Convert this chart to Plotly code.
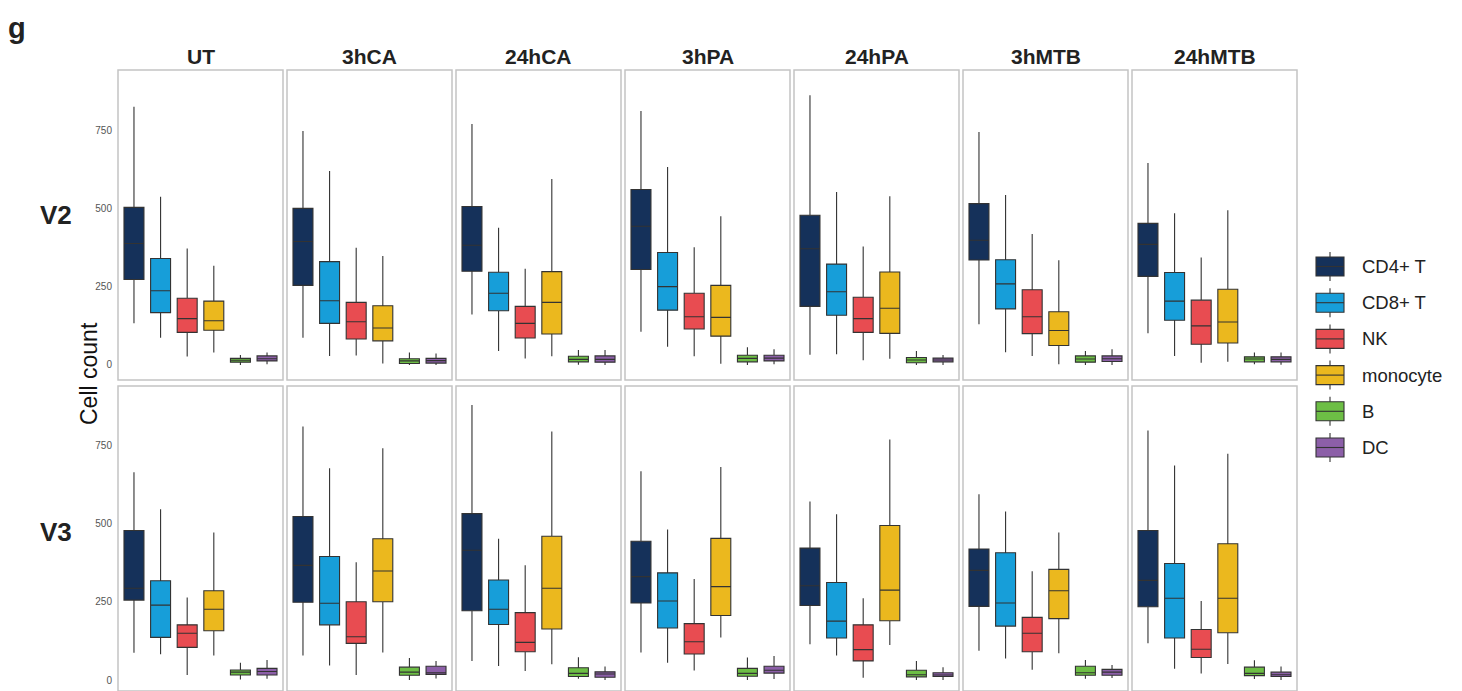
import plotly.graph_objects as go

# Cell types (x categories / fill colours) and facet labels
celltypes = ["CD4+ T", "CD8+ T", "NK", "monocyte", "B", "DC"]
colors = ["#15315A", "#179ED9", "#E84C51", "#EBB81E", "#6DBE45", "#8C5FA8"]
conditions = ["UT", "3hCA", "24hCA", "3hPA", "24hPA", "3hMTB", "24hMTB"]
visits = ["V2", "V3"]
y_ticks = [0, 250, 500, 750]

# Box statistics: rows = cell type, columns = condition
V2_HIGH = [
    [824, 747, 769, 811, 861, 744, 645],
    [537, 619, 438, 632, 552, 543, 484],
    [372, 374, 307, 376, 378, 418, 343],
    [317, 348, 594, 475, 539, 334, 494],
    [32, 40, 48, 57, 45, 45, 40],
    [40, 37, 48, 50, 32, 50, 40],
]
V2_Q3 = [
    [503, 500, 506, 560, 478, 515, 452],
    [340, 330, 296, 359, 322, 336, 295],
    [213, 200, 187, 229, 216, 240, 207],
    [204, 189, 298, 254, 297, 170, 242],
    [21, 20, 28, 31, 24, 29, 26],
    [29, 21, 29, 31, 22, 29, 26],
]
V2_MED = [
    [388, 394, 382, 443, 371, 398, 385],
    [237, 205, 229, 250, 234, 259, 204],
    [148, 138, 133, 154, 148, 154, 125],
    [141, 118, 200, 152, 181, 110, 137],
    [15, 13, 18, 21, 16, 19, 19],
    [20, 14, 18, 22, 16, 20, 18],
]
V2_Q1 = [
    [273, 254, 299, 305, 187, 335, 283],
    [167, 133, 173, 175, 159, 179, 143],
    [104, 83, 86, 115, 104, 100, 66],
    [111, 77, 99, 92, 101, 62, 70],
    [9, 5, 10, 10, 7, 9, 10],
    [13, 6, 9, 13, 10, 11, 10],
]
V2_LOW = [
    [133, 87, 161, 106, 33, 130, 101],
    [87, 29, 45, 58, 34, 41, 29],
    [27, 30, 21, 28, 15, 29, 7],
    [40, 5, 28, 4, 20, 2, 10],
    [0, 0, 1, 0, 0, 0, 2],
    [2, 0, 0, 2, 0, 0, 1],
]

V3_HIGH = [
    [663, 809, 878, 666, 570, 593, 796],
    [545, 676, 451, 480, 529, 538, 685],
    [263, 376, 366, 322, 261, 347, 252],
    [471, 740, 793, 680, 768, 471, 722],
    [55, 70, 73, 72, 61, 64, 63],
    [64, 61, 43, 77, 41, 48, 43],
]
V3_Q3 = [
    [477, 522, 531, 443, 421, 418, 477],
    [317, 394, 319, 342, 311, 406, 372],
    [176, 250, 215, 180, 176, 200, 161],
    [285, 451, 459, 452, 493, 353, 435],
    [32, 41, 39, 37, 31, 44, 41],
    [37, 44, 26, 44, 23, 34, 25],
]
V3_MED = [
    [293, 366, 414, 330, 301, 350, 318],
    [239, 245, 226, 252, 188, 246, 261],
    [149, 138, 120, 122, 97, 149, 98],
    [226, 348, 293, 298, 287, 285, 261],
    [25, 25, 21, 21, 17, 23, 21],
    [27, 23, 19, 31, 16, 25, 17],
]
V3_Q1 = [
    [255, 248, 221, 246, 238, 235, 234],
    [136, 176, 177, 166, 134, 172, 134],
    [104, 117, 90, 83, 61, 90, 72],
    [157, 250, 163, 206, 189, 196, 151],
    [16, 15, 11, 12, 10, 15, 14],
    [16, 18, 9, 22, 11, 15, 11],
]
V3_LOW = [
    [87, 78, 61, 88, 114, 93, 117],
    [82, 46, 45, 55, 78, 69, 36],
    [16, 16, 29, 30, 7, 33, 21],
    [78, 88, 50, 136, 112, 85, 51],
    [2, 0, 4, 0, 0, 4, 3],
    [4, 5, 0, 3, 0, 6, 0],
]

stats = {
    "V2": (V2_LOW, V2_Q1, V2_MED, V2_Q3, V2_HIGH),
    "V3": (V3_LOW, V3_Q1, V3_MED, V3_Q3, V3_HIGH),
}

W, H = 1462, 691
FONT = "Liberation Sans, Arial, Helvetica, sans-serif"
OUTLINE = "#333333"
BORDER = "#C4C4C4"


def px_x(p):
    return p / W


def px_y(p):
    return 1 - p / H


# Panel geometry (pixels)
col_left = [118 + 169 * i for i in range(len(conditions))]
panel_w = 165
row_top = [70, 386]
row_bottom = [380, 691]
row_range = [[-47.9, 941.6], [-35.1, 938.4]]

fig = go.Figure()
layout = {}
shapes = []
annotations = []

for r, visit in enumerate(visits):
    low, q1, med, q3, high = stats[visit]
    for c, cond in enumerate(conditions):
        k = r * len(conditions) + c + 1
        xa = "x" if k == 1 else f"x{k}"
        ya = "y" if k == 1 else f"y{k}"
        for i, ct in enumerate(celltypes):
            fig.add_trace(go.Box(
                x=[ct], lowerfence=[low[i][c]], q1=[q1[i][c]], median=[med[i][c]],
                q3=[q3[i][c]], upperfence=[high[i][c]],
                fillcolor=colors[i], line=dict(color=OUTLINE, width=1.1),
                width=0.75, whiskerwidth=0, boxpoints=False,
                showlegend=False, name=ct, xaxis=xa, yaxis=ya,
            ))
        layout[f"xaxis{k}"] = dict(
            domain=[px_x(col_left[c]), px_x(col_left[c] + panel_w)],
            anchor=ya, type="category", categoryorder="array",
            categoryarray=celltypes, range=[-0.6, 5.6],
            showticklabels=False, showgrid=False, zeroline=False,
            showline=False, ticks="",
        )
        layout[f"yaxis{k}"] = dict(
            domain=[px_y(row_bottom[r]), px_y(row_top[r])],
            anchor=xa, range=row_range[r], tickvals=y_ticks,
            showticklabels=(c == 0), showgrid=False, zeroline=False,
            showline=False, ticks="outside", ticklen=3,
            tickcolor="rgba(0,0,0,0)",
            tickfont=dict(family=FONT, size=10, color="#555555"),
        )
        shapes.append(dict(
            type="rect", xref=f"{xa} domain", yref=f"{ya} domain",
            x0=0, x1=1, y0=0, y1=1, line=dict(color=BORDER, width=1.5),
            fillcolor="rgba(0,0,0,0)", layer="above",
        ))

# Facet strip titles
for c, cond in enumerate(conditions):
    annotations.append(dict(
        text=f"<b>{cond}</b>", x=px_x(col_left[c] + panel_w / 2), y=px_y(56),
        xref="paper", yref="paper", xanchor="center", yanchor="middle",
        showarrow=False, font=dict(family=FONT, size=21, color="#222222"),
    ))

# Row labels
for r, (visit, yc) in enumerate(zip(visits, [215, 532])):
    annotations.append(dict(
        text=f"<b>{visit}</b>", x=px_x(56), y=px_y(yc),
        xref="paper", yref="paper", xanchor="center", yanchor="middle",
        showarrow=False, font=dict(family=FONT, size=26, color="#222222"),
    ))

# Panel letter and y title
annotations.append(dict(
    text="<b>g</b>", x=px_x(6), y=px_y(28), xref="paper", yref="paper",
    xanchor="left", yanchor="middle", showarrow=False,
    font=dict(family=FONT, size=29, color="#222222"),
))
annotations.append(dict(
    text="Cell count", x=px_x(89), y=px_y(374), xref="paper", yref="paper",
    xanchor="center", yanchor="middle", textangle=-90, showarrow=False,
    font=dict(family=FONT, size=23, color="#111111"),
))

# Legend keys drawn as small boxplot glyphs
key_x0, key_x1 = 1316, 1344
key_cx = (key_x0 + key_x1) / 2
for i, (ct, col) in enumerate(zip(celltypes, colors)):
    cy = 266.5 + 36.2 * i
    shapes.append(dict(type="line", xref="paper", yref="paper",
                       x0=px_x(key_cx), x1=px_x(key_cx),
                       y0=px_y(cy - 14.5), y1=px_y(cy + 14.5),
                       line=dict(color=OUTLINE, width=1.1)))
    shapes.append(dict(type="rect", xref="paper", yref="paper",
                       x0=px_x(key_x0), x1=px_x(key_x1),
                       y0=px_y(cy + 9.5), y1=px_y(cy - 9.5),
                       fillcolor=col, line=dict(color=OUTLINE, width=1.1)))
    shapes.append(dict(type="line", xref="paper", yref="paper",
                       x0=px_x(key_x0), x1=px_x(key_x1),
                       y0=px_y(cy), y1=px_y(cy),
                       line=dict(color=OUTLINE, width=1.1)))
    annotations.append(dict(
        text=ct, x=px_x(1360), y=px_y(cy), xref="paper", yref="paper",
        xanchor="left", yanchor="middle", showarrow=False,
        font=dict(family=FONT, size=18.5, color="#222222"),
    ))

fig.update_layout(
    width=W, height=H, margin=dict(l=0, r=0, t=0, b=0),
    paper_bgcolor="white", plot_bgcolor="white",
    boxmode="overlay", showlegend=False,
    shapes=shapes, annotations=annotations,
    **layout,
)

fig.write_html("out.html")
